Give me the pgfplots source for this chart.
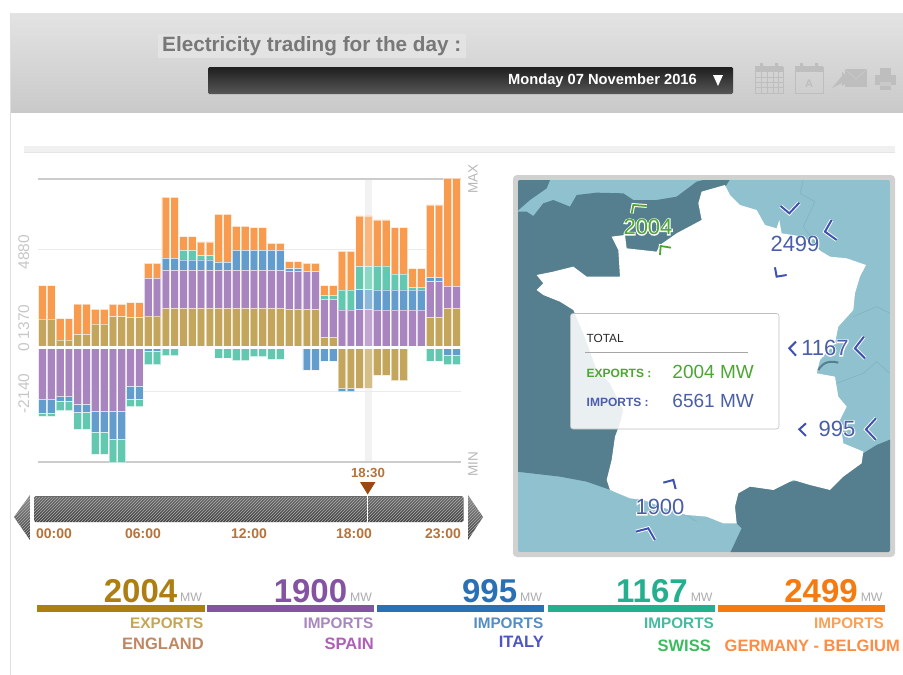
\documentclass[border=0pt]{standalone}
\usepackage{fontspec}
\setmainfont{Liberation Sans}
\usepackage{pgfplots}
\usepackage{pgfplotstable}
\pgfplotsset{compat=1.18}
\usetikzlibrary{patterns}
\definecolor{cEN}{HTML}{C4A55C}
\definecolor{cES}{HTML}{A885BF}
\definecolor{cIT}{HTML}{629DCE}
\definecolor{cCH}{HTML}{62C9B0}
\definecolor{cDE}{HTML}{F99B4E}
\definecolor{sea}{HTML}{557F8E}
\definecolor{land}{HTML}{8FC1CE}
\definecolor{navy}{HTML}{4A5FA5}
\definecolor{grn}{HTML}{4CA632}
\definecolor{tlab}{HTML}{B5733A}
\definecolor{ico}{HTML}{BEBEBE}
% half-hourly signed flows (MW): positive above the zero line, negative below
\pgfplotstableread{
x en es it ch de
0 1441 -2568 -663 -166 1657
1 1441 -2568 -663 -166 1657
2 398 -2419 -215 -480 1060
3 398 -2419 -215 -480 1060
4 679 -2800 -381 -862 1508
5 679 -2800 -381 -862 1508
6 1193 -3132 -1044 -1110 729
7 1193 -3132 -1044 -1110 729
8 1557 -3132 -1408 -1160 613
9 1557 -3132 -1408 -1160 613
10 1508 -1889 -646 -381 746
11 1508 -1889 -646 -381 746
12 1591 1872 -149 -679 746
13 1591 1872 -149 -679 746
14 1972 1889 596 -381 3032
15 1972 1889 596 -381 3032
16 1972 1889 514 480 679
17 1972 1889 514 480 679
18 1972 1889 514 215 679
19 1972 1889 514 215 679
20 1972 1889 398 -497 2386
21 1972 1889 398 -497 2386
22 1972 1889 994 -630 1193
23 1972 1889 994 -630 1193
24 1972 1889 994 -431 1127
25 1972 1889 994 -431 1127
26 1972 1889 994 -563 348
27 1972 1889 994 -563 348
28 1922 1889 133 0 348
29 1922 1889 133 0 348
30 1922 1872 -1094 0 414
31 1922 1872 -1094 0 414
32 530 1889 -646 199 480
33 530 1889 -646 199 480
34 -2022 1889 -149 994 1922
35 -2022 1889 -149 994 1922
36 -2004 1900 995 1167 2499
37 -2004 1900 995 1167 2499
38 -1359 1889 994 1193 2287
39 -1359 1889 994 1193 2287
40 -1624 1889 994 795 2303
41 -1624 1889 994 795 2303
42 0 1889 994 133 928
43 0 1889 994 133 928
44 1524 1773 199 -646 3612
45 1524 1773 199 -646 3612
46 1972 1094 -365 -464 5369
47 1972 1094 -365 -464 5369
}\flows
\pgfplotsset{
  barbase/.style={
    scale only axis, width=422.8pt, height=283pt,
    xmin=-0.54, xmax=47.45, ymin=-5666, ymax=8399,
    ybar stacked, bar width=7.7pt, xtick=\empty,
    axis line style={draw=none}, tick style={draw=none},
    clip=false,
    every axis plot/.append style={draw=white, draw opacity=.5, line width=0.8pt},
  },
}
\newcommand{\halo}[5]{% x y color size text
  \node[font=\fontsize{#4}{#4}\selectfont,text=white] at (#1,#2)
    {\special{pdf:code q 1 Tr 2 w 1 1 1 RG}#5\special{pdf:code Q}};
  \node[font=\fontsize{#4}{#4}\selectfont,text=#3] at (#1,#2) {#5};}
\newcommand{\chev}[3][navy!85!blue]{%
  \draw[white,line width=3.8pt,miter limit=4] #3;
  \draw[#1,line width=#2] #3;}
\begin{document}
\begin{tikzpicture}[x=1pt,y=-1pt]
\path[use as bounding box] (0,0) rectangle (903,675);
\fill[white] (0,0) rectangle (903,675);
% header
\shade[top color=black!11,bottom color=black!21] (10,13) rectangle (903,112);
\draw[black!13,line width=1.2pt] (10.5,13) -- (10.5,675);
\fill[black!11] (158,34) rectangle (466,58);
\node[anchor=west,inner sep=0pt,font=\bfseries\fontsize{20.7}{21}\selectfont,text=black!53] at (162,46) {Electricity trading for the day :};
\shade[top color=black!88,bottom color=black!66,rounded corners=1.5pt] (208,67) rectangle (733,94);
\node[anchor=east,inner sep=0pt,font=\bfseries\fontsize{14.7}{15}\selectfont,text=white] at (697,81) {Monday 07 November 2016};
\fill[white] (713,75) -- (723,75) -- (718,86) -- cycle;
% icons
\draw[ico,line width=1pt] (755,67) rectangle (783,93);
\fill[ico] (755,66) rectangle (783,72);
\draw[ico,line width=.7pt] (755,77) -- (783,77) (755,82) -- (783,82) (755,87) -- (783,87) (761,72) -- (761,93) (767,72) -- (767,93) (773,72) -- (773,93) (778,72) -- (778,93);
\fill[ico] (760,63) rectangle (763,68) (775,63) rectangle (778,68);
\draw[ico,line width=1pt] (795,67) rectangle (823,93);
\fill[ico] (795,66) rectangle (823,72);
\fill[ico] (800,63) rectangle (803,68) (815,63) rectangle (818,68);
\node[text=ico,font=\bfseries\fontsize{11}{12}\selectfont] at (809,84) {A};
\fill[ico] (845,69) -- (867,69) -- (867,87) -- (845,87) -- cycle;
\draw[black!21,line width=.8pt] (845,69) -- (856,79) -- (867,69);
\fill[ico] (832,88) -- (842,76) -- (842,72) -- (850,80) -- (842,86) -- (842,83) -- cycle;
\fill[ico] (880,68) rectangle (891,75);
\fill[ico] (875,75) rectangle (896,85);
\fill[ico] (880,86) rectangle (891,90);
\fill[black!21] (880,82) rectangle (891,85.5);
% separator
\fill[black!6] (24,146) rectangle (895,152);
\draw[black!10,line width=.6pt] (24,152) -- (895,152);
% chart furniture behind the bars
\fill[black!5] (364.8,179) rectangle (372.2,462);
\draw[black!20,line width=1.2pt] (37.7,179) -- (460.5,179);
\draw[black!20,line width=1.2pt] (37.7,462) -- (460.5,462);
\begin{axis}[barbase, at={(37.7pt,-462pt)}, anchor=south west,
    ytick={0,1370}, yticklabels={\hspace{7pt}0,\hspace{2pt}1370},
    extra y ticks={-2140,4880}, extra y tick labels={-2140,4880},
    extra y tick style={ymajorgrids=true, major grid style={black!8,line width=.9pt}},
    yticklabel style={rotate=90,anchor=south,text=black!22,font=\fontsize{15.5}{16}\selectfont,xshift=-2.5pt,yshift=5pt},
  ]
  \addplot[fill=cEN] table[x=x,y expr={max(\thisrow{en},0)}] {\flows};
  \addplot[fill=cES] table[x=x,y expr={max(\thisrow{es},0)}] {\flows};
  \addplot[fill=cIT] table[x=x,y expr={max(\thisrow{it},0)}] {\flows};
  \addplot[fill=cCH] table[x=x,y expr={max(\thisrow{ch},0)}] {\flows};
  \addplot[fill=cDE] table[x=x,y expr={max(\thisrow{de},0)}] {\flows};
\end{axis}
\begin{axis}[barbase, at={(37.7pt,-462pt)}, anchor=south west, ytick=\empty]
  \addplot[fill=cEN] table[x=x,y expr={min(\thisrow{en},0)}] {\flows};
  \addplot[fill=cES] table[x=x,y expr={min(\thisrow{es},0)}] {\flows};
  \addplot[fill=cIT] table[x=x,y expr={min(\thisrow{it},0)}] {\flows};
  \addplot[fill=cCH] table[x=x,y expr={min(\thisrow{ch},0)}] {\flows};
\end{axis}
\fill[white,opacity=.28] (364.6,216) rectangle (372.4,391);
\fill[white] (38,346.3) rectangle (461,349);
\node[rotate=90,text=black!28,font=\fontsize{13.5}{14}\selectfont] at (473,179) {MAX};
\node[rotate=90,text=black!28,font=\fontsize{13.5}{14}\selectfont] at (473,464) {MIN};
% slider
\shade[top color=black!45,bottom color=black!75] (30,495) -- (30,540) -- (14,517) -- cycle;
\shade[top color=black!45,bottom color=black!75] (468,495) -- (468,540) -- (483,517) -- cycle;
\shade[top color=black!58,middle color=black!40,bottom color=black!74,rounded corners=1.5pt] (34,496) rectangle (463.5,522);
\fill[pattern=north east lines,pattern color=black!32] (34,497) rectangle (463.5,521);
\fill[pattern=north east lines,pattern color=black!32] (30,495) -- (30,540) -- (14,517) -- cycle;
\fill[pattern=north east lines,pattern color=black!32] (468,495) -- (468,540) -- (483,517) -- cycle;
\fill[white] (366.5,496) rectangle (368.3,522);
\foreach \xx/\tl in {54/00:00,143/06:00,249/12:00,354/18:00,443/23:00}
  \node[text=tlab,font=\bfseries\fontsize{14}{15}\selectfont] at (\xx,534) {\tl};
\node[text=tlab,font=\bfseries\fontsize{13.2}{14}\selectfont] at (368,473) {18:30};
\definecolor{mk}{HTML}{9A4A10}
\fill[mk] (360,482) -- (375.5,482) -- (367.7,494.5) -- cycle;
% map
\fill[black!18,rounded corners=4pt] (513,175) rectangle (895,557);
\begin{scope}
\clip[rounded corners=2pt] (518,180) rectangle (890,552);
\fill[land] (518,180) rectangle (890,552);
\begin{scope}[shift={(510pt,-170pt)},x=0.3333pt,y=-0.3333pt]
  % seas
  \fill[sea] (20,25) -- (122,25) -- (110,55) -- (60,90) -- (20,125) -- cycle;
  \fill[sea] (20,125) -- (50,125) -- (70,138) -- (100,100) -- (130,90) -- (180,110) -- (200,75) -- (260,68) -- (340,70) -- (370,90) -- (440,90) -- (500,80) -- (560,35) -- (600,25) -- (662,25) -- (640,60) -- (600,300) -- (500,800) -- (330,970) -- (230,935) -- (150,920) -- (20,905) -- cycle;
  \fill[sea] (680,950) -- (672,1010) -- (680,1060) -- (695,1075) -- (660,1150) -- (1150,1150) -- (1150,805) -- (1100,825) -- (1060,850) -- (1000,920) -- cycle;
  % borders on land
  \draw[land!72!sea,line width=.4pt] (880,30) -- (870,70) -- (915,95) -- (880,170) -- (935,245);
  \draw[land!72!sea,line width=.4pt] (1030,440) -- (1100,410) -- (1140,430);
  \draw[land!72!sea,line width=.4pt] (980,640) -- (1060,610) -- (1100,575) -- (1140,610);
  \draw[land!72!sea,line width=.4pt] (530,1035) -- (560,1055);
  % France
  \fill[white] (645,45) -- (660,75) -- (690,105) -- (740,120) -- (765,165) -- (800,175) -- (808,150) -- (815,190) -- (880,200) -- (935,245) -- (960,260) -- (1010,265) -- (1068,285) -- (1050,320) -- (1035,370) -- (1030,420) -- (985,470) -- (975,520) -- (930,570) -- (920,610) -- (975,620) -- (985,680) -- (1010,710) -- (990,750) -- (1000,820) -- (1060,845) -- (1055,880) -- (1000,920) -- (960,960) -- (900,945) -- (850,930) -- (790,960) -- (720,950) -- (685,970) -- (675,1010) -- (680,1060) -- (640,1060) -- (590,1040) -- (530,1035) -- (480,1020) -- (400,990) -- (360,985) -- (300,960) -- (290,930) -- (305,870) -- (315,800) -- (330,760) -- (340,720) -- (300,640) -- (260,600) -- (220,490) -- (190,420) -- (150,395) -- (100,375) -- (80,360) -- (100,340) -- (80,315) -- (130,305) -- (190,290) -- (230,320) -- (330,320) -- (325,240) -- (305,200) -- (345,195) -- (350,235) -- (440,245) -- (450,225) -- (500,190) -- (575,150) -- (565,100) -- (575,65) -- cycle;
  % lake
  \draw[sea,line width=2pt] (925,600) .. controls (940,575) and (960,572) .. (985,578);
  % chevrons
  \chev[grn]{1.8pt}{(365,130) -- (370,105) -- (410,108)}
  \chev[grn]{1.8pt}{(450,255) -- (452,228) -- (483,233)}
  \chev{2pt}{(812,108) -- (838,130) -- (868,98)}
  \chev{2pt}{(965,150) -- (945,185) -- (980,210)}
  \chev{2pt}{(795,292) -- (800,320) -- (830,315)}
  \chev{2pt}{(858,515) -- (838,535) -- (858,557)}
  \chev{2pt}{(1062,500) -- (1035,535) -- (1065,565)}
  \chev{2pt}{(888,760) -- (868,778) -- (888,798)}
  \chev{2pt}{(1098,745) -- (1068,778) -- (1098,810)}
  \chev{2pt}{(460,938) -- (490,930) -- (497,957)}
  \chev{2pt}{(378,1085) -- (415,1075) -- (435,1110)}
\end{scope}
\end{scope}
\halo{648}{227}{grn}{22}{2004}
\halo{795}{244}{navy}{22}{2499}
\halo{825}{348}{navy}{22}{1167}
\halo{837}{429}{navy}{22}{995}
\halo{660}{507}{navy}{22}{1900}
% total panel
\fill[white,fill opacity=.88,draw=black!25,line width=.6pt,rounded corners=2.5pt] (570.5,313.5) rectangle (779,429);
\node[anchor=west,inner sep=0pt,font=\fontsize{11.8}{12}\selectfont,text=black!85] at (586.5,338) {TOTAL};
\draw[black!35,line width=.8pt] (585,352.7) -- (748,352.7);
\node[anchor=west,inner sep=0pt,font=\bfseries\fontsize{12}{13}\selectfont,text=grn] at (586.5,373) {EXPORTS :};
\node[anchor=west,inner sep=0pt,font=\bfseries\fontsize{12}{13}\selectfont,text=navy] at (586.5,402) {IMPORTS :};
\node[anchor=east,inner sep=0pt,font=\fontsize{19}{20}\selectfont,text=grn] at (754,372) {2004 MW};
\node[anchor=east,inner sep=0pt,font=\fontsize{19}{20}\selectfont,text=navy] at (754,401) {6561 MW};
% bottom columns
\newcommand{\col}[6]{% left right barcolour number importcolour word
  \fill[#3] (#1,605) rectangle (#2,612);
  \node[anchor=base east,inner sep=0pt,text=#3,font=\bfseries\fontsize{33}{34}\selectfont] at (#2-27,602) {#4};
  \node[anchor=base east,inner sep=0pt,text=black!32,font=\fontsize{12.3}{13}\selectfont] at (#2-2.2,601.5) {MW};
  \node[anchor=base east,inner sep=0pt,text=#5,font=\bfseries\fontsize{15.3}{16}\selectfont] at (#2-1,628) {#6};
}
\definecolor{b1}{HTML}{AD7F12}\definecolor{b2}{HTML}{8454A3}\definecolor{b3}{HTML}{2A70B5}\definecolor{b4}{HTML}{24B08F}\definecolor{b5}{HTML}{F57A0F}
\col{37.4}{204.5}{b1}{2004}{b1!70!white}{EXPORTS}
\col{207.4}{374.4}{b2}{1900}{b2!70!white}{IMPORTS}
\col{377.3}{544.4}{b3}{995}{b3!80!white}{IMPORTS}
\col{548}{715}{b4}{1167}{b4!85!white}{IMPORTS}
\col{718.3}{885}{b5}{2499}{b5!70!white}{IMPORTS}
\tikzset{w/.style={anchor=base east,inner sep=0pt,font=\bfseries\fontsize{16.5}{17}\selectfont}}
\definecolor{w1}{HTML}{C08763}\definecolor{w2}{HTML}{AF5FB5}\definecolor{w3}{HTML}{4F55C5}\definecolor{w4}{HTML}{3DBB5F}\definecolor{w5}{HTML}{FF8C45}
\node[w,text=w1] at (204,649) {ENGLAND};
\node[w,text=w2] at (374,649) {SPAIN};
\node[w,text=w3] at (544,647) {ITALY};
\node[w,text=w4] at (711,651) {SWISS};
\node[w,text=w5] at (900,651) {GERMANY - BELGIUM};
\end{tikzpicture}
\end{document}
